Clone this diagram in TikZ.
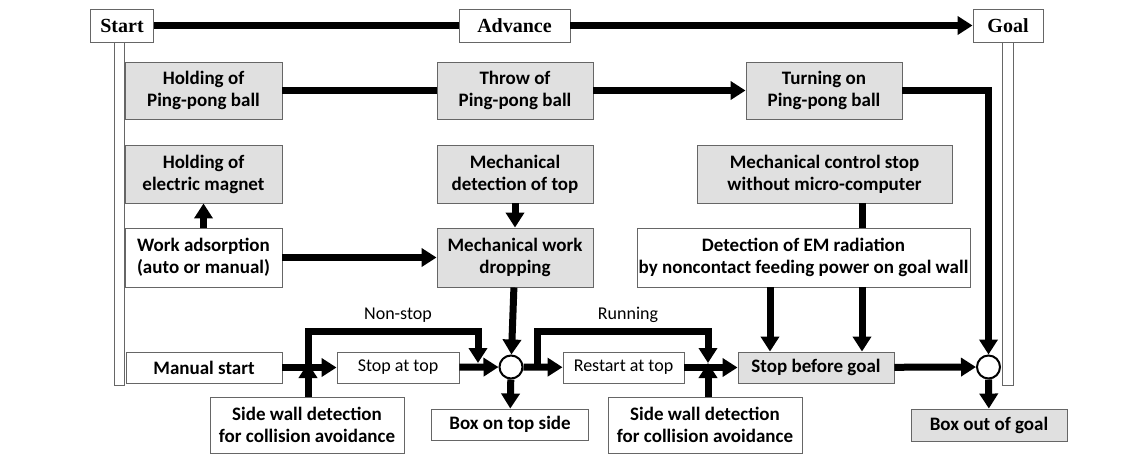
\documentclass[tikz,border=0pt]{standalone}
\usepackage{fontspec}
\setmainfont{Carlito}
\newfontfamily\timesfont{Liberation Serif}
\usepackage{tikz}
\usetikzlibrary{arrows.meta}

\tikzset{
  >={Triangle[length=15pt,width=18pt]},
  box/.style={draw=black!60, line width=0.9pt, fill=white, inner sep=0pt, align=center,
    font=\bfseries\fontsize{19}{22}\selectfont},
  greybox/.style={box, fill=black!12},
  plainbox/.style={box, font=\fontsize{18}{22}\selectfont},
  endbox/.style={box, minimum height=33pt, font=\timesfont\bfseries\fontsize{20}{22}\selectfont},
  wall/.style={draw=black!60, line width=0.9pt, fill=white, minimum width=10pt, inner sep=0pt},
  merge/.style={circle, draw=black, line width=2pt, fill=white, minimum size=23pt, inner sep=0pt},
  flow/.style={line width=7pt},
  lbl/.style={font=\fontsize{18}{22}\selectfont}
}

\begin{document}
\begin{tikzpicture}[x=1pt, y=-1pt]
        \useasboundingbox (0,0) rectangle (1143,455);

        \node[wall, minimum height=343pt] (wl) at (119, 213.5) {};
        \node[wall, minimum height=343pt, minimum width=11pt] (wr) at (1007.5, 213.5) {};

        \node[endbox, minimum width=63pt] (start) at (122, 25.5) {Start};
        \node[endbox, minimum width=111pt] (adv) at (514.5, 25.5) {Advance};
        \node[endbox, minimum width=70pt] (goal) at (1008, 25.5) {Goal};

        \node[greybox, minimum width=157pt, minimum height=57pt] (hpp) at (203.5, 90.5) {Holding of\\Ping-pong ball};
        \node[greybox, minimum width=156pt, minimum height=57pt] (tpp) at (515, 90.5) {Throw of\\Ping-pong ball};
        \node[greybox, minimum width=156pt, minimum height=57pt] (upp) at (824, 90.5) {Turning on\\Ping-pong ball};

        \node[greybox, minimum width=157pt, minimum height=58pt] (hem) at (203.5, 174) {Holding of\\electric magnet};
        \node[greybox, minimum width=156pt, minimum height=58pt] (mdt) at (515, 174) {Mechanical\\detection of top};
        \node[greybox, minimum width=255pt, minimum height=58pt] (mcs) at (824.5, 174) {Mechanical control stop\\without micro-computer};

        \node[box, minimum width=157pt, minimum height=59pt] (wad) at (203.5, 257.5) {Work adsorption\\(auto or manual)};
        \node[greybox, minimum width=156pt, minimum height=59pt] (mwd) at (515, 257.5) {Mechanical work\\dropping};
        \node[box, minimum width=333pt, minimum height=59pt] (dem) at (803.5, 257.5) {Detection of EM radiation\\by noncontact feeding power on goal wall};

        \node[box, minimum width=156pt, minimum height=31pt] (mst) at (204, 367.5) {Manual start};
        \node[plainbox, minimum width=122pt, minimum height=31pt] (sat) at (398, 367.5) {Stop at top};
        \node[merge] (c1) at (511, 367) {};
        \node[plainbox, minimum width=121pt, minimum height=31pt] (rat) at (623.5, 367.5) {Restart at top};
        \node[greybox, minimum width=156pt, minimum height=31pt] (sbg) at (816, 367.5) {Stop before goal};
        \node[merge] (c2) at (988.5, 367) {};

        \node[box, minimum width=194pt, minimum height=56pt] (sw1) at (307, 425) {Side wall detection\\for collision avoidance};
        \node[box, minimum width=157pt, minimum height=31pt] (bts) at (510, 424.5) {Box on top side};
        \node[box, minimum width=194pt, minimum height=56pt] (sw2) at (705, 425) {Side wall detection\\for collision avoidance};
        \node[greybox, minimum width=156pt, minimum height=32pt] (bog) at (989, 425) {Box out of goal};

        \node[lbl] (lns) at (398, 315) {Non-stop};
        \node[lbl] (lrn) at (628, 315) {Running};

        \coordinate (j1) at (308, 367);
        \coordinate (t1) at (478, 331);
        \coordinate (n1) at (478, 363);
        \coordinate (k1) at (537, 367);
        \coordinate (t2) at (708, 331);
        \coordinate (n2) at (708, 363);
        \coordinate (xa) at (770, 0);
        \coordinate (xb) at (862, 0);

        \draw[flow] (start) -- (adv);
        \draw[flow,->] (adv) -- (goal);
        \draw[flow] (hpp) -- (tpp);
        \draw[flow,->] (tpp) -- (upp);
        \draw[flow,->] (upp.east) -| (c2.north);

        \draw[flow,->] (wad) -- (hem);
        \draw[flow,->] (wad) -- (mwd);
        \draw[flow,->] (mdt) -- (mwd);
        \draw[flow,->] (mwd) -- (c1);
        \draw[flow] (mcs.south -| xb) -- (dem.north -| xb);
        \draw[flow,->] (dem.south -| xa) -- (sbg.north -| xa);
        \draw[flow,->] (dem.south -| xb) -- (sbg.north -| xb);

        \draw[flow,->] (mst) -- (sat);
        \draw[flow,->] (j1) |- (t1) -- (n1);
        \draw[flow,->] (sw1.north -| j1) -- ([yshift=4pt]j1);
        \draw[flow,->] (sat) -- (c1);
        \draw[flow,->] (c1) -- (bts);
        \draw[flow,->] (c1) -- (rat);
        \draw[flow,->] (k1) |- (t2) -- (n2);
        \draw[flow,->] (rat) -- (sbg);
        \draw[flow,->] (sw2.north -| n2) -- ([yshift=4pt]n2 |- j1);
        \draw[flow,->] (sbg) -- (c2);
        \draw[flow,->] (c2) -- (bog);
    \end{tikzpicture}
\end{document}
